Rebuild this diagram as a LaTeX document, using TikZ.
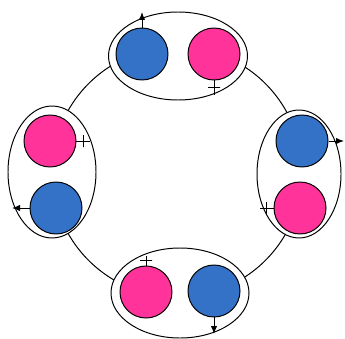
\documentclass[tikz,border=0pt]{standalone}
\usetikzlibrary{arrows.meta,shapes.geometric}
\definecolor{boyblue}{RGB}{52,114,200}
\definecolor{girlpink}{RGB}{255,51,153}
\tikzset{
  pair/.style={ellipse,draw,fill=white,inner sep=0pt},
  boy/.style={circle,draw,fill=boyblue,minimum size=13mm,inner sep=0pt},
  girl/.style={circle,draw,fill=girlpink,minimum size=13mm,inner sep=0pt},
  crossbar/.style={draw,rectangle,sloped,minimum width=0pt,minimum height=3mm,inner sep=0pt,outer sep=0pt}
}

\begin{document}
\begin{tikzpicture}[x=0.25mm,y=-0.25mm,line width=0.7pt,>={Latex[length=2mm,width=1.6mm]}]
  \useasboundingbox (0,0) rectangle (345,338);
  \node[circle,draw,minimum size=62.5mm] (ring) at (177,172) {};
  % the four couples
  \node[pair,minimum width=34.75mm,minimum height=22mm] (toppair) at (178,56) {};
  \node[pair,minimum width=22mm,minimum height=33mm] (leftpair) at (52,172) {};
  \node[pair,minimum width=21mm,minimum height=32mm] (rightpair) at (299,174) {};
  \node[pair,minimum width=34.5mm,minimum height=22.5mm] (bottompair) at (180,293) {};
  \node[boy] (topboy) at (142,54) {};
  \node[girl] (topgirl) at (214,54) {};
  \node[girl] (leftgirl) at (50,141) {};
  \node[boy] (leftboy) at (56,208) {};
  \node[boy] (rightboy) at (302,141) {};
  \node[girl] (rightgirl) at (300,208) {};
  \node[girl] (bottomgirl) at (146,292) {};
  \node[boy] (bottomboy) at (214,291) {};
  % male and female signs
  \coordinate (topout) at (142,12);
  \coordinate (leftout) at (12,208);
  \coordinate (rightout) at (344,141);
  \coordinate (bottomout) at (214,334);
  \coordinate (topbar) at (214,95);
  \coordinate (leftbar) at (90,141);
  \coordinate (rightbar) at (260,208);
  \coordinate (bottombar) at (146,256);
  \draw[->] (topboy) -- (topout);
  \draw[->] (leftboy) -- (leftout);
  \draw[->] (rightboy) -- (rightout);
  \draw[->] (bottomboy) -- (bottomout);
  \draw (topgirl) -- node[crossbar]{} (topbar);
  \draw (leftgirl) -- node[crossbar]{} (leftbar);
  \draw (rightgirl) -- node[crossbar]{} (rightbar);
  \draw (bottomgirl) -- node[crossbar]{} (bottombar);
\end{tikzpicture}
\end{document}
